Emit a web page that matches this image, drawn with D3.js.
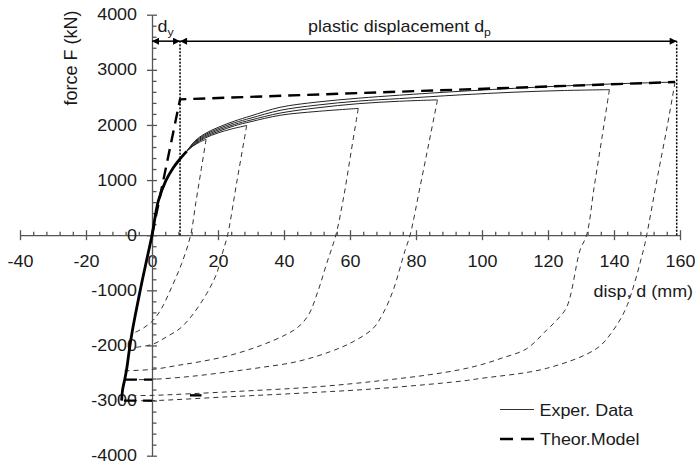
<!DOCTYPE html>
<html>
<head>
<meta charset="utf-8">
<title>Force - displacement</title>
<script src="https://cdn.jsdelivr.net/npm/d3@7"></script>
<style>
body { margin: 0; background: #fff; }
text { font-family: "Liberation Sans", Arial, sans-serif; fill: #1a1a1a; }
</style>
</head>
<body>
<div id="chart"></div>
<script>
var w = 695, h = 464;

var xMajor = [-40, -20, 0, 20, 40, 60, 80, 100, 120, 140, 160];
var yMajor = [-4000, -3000, -2000, -1000, 0, 1000, 2000, 3000, 4000];

// common loading path (drawn bold)
var backbone = [[-9.2,-3000],[-8.9,-2800],[-8.2,-2600],[-7.6,-2400],[-6.8,-2050],[-6.0,-1750],[-4.9,-1400],[-3.4,-950],[-1.8,-500],[0,0],[1.9,620],[4.2,990],[6.4,1220],[8.3,1370],[10.5,1520]];

// experimental loading branches
var load1 = [[10.5,1520],[12.5,1620],[14.5,1690],[16.4,1740]];
var load2 = [[10.5,1520],[13,1650],[16,1760],[20,1855],[24,1925],[28.7,1990]];
var load3 = [[10.5,1520],[13,1665],[16,1780],[20,1880],[25,1985],[30,2060],[38.8,2175],[50,2245],[62.5,2300]];
var load4 = [[10.5,1520],[13,1680],[16,1800],[20,1905],[25,2010],[30,2090],[38.8,2215],[50,2310],[62.5,2386],[75,2430],[86.5,2455]];
var load5 = [[10.5,1520],[13,1695],[16,1820],[20,1930],[25,2040],[30,2125],[38.8,2265],[50,2360],[62.5,2433],[75,2478],[93.3,2545],[110,2595],[125,2625],[138.6,2640]];
var load6 = [[10.5,1520],[13,1710],[16,1840],[20,1955],[25,2070],[30,2165],[38.8,2320],[50,2415],[62.5,2485],[75,2540],[93.3,2610],[120,2695],[140,2745],[158.5,2778]];

// experimental unloading branches
var unload1 = [[16.4,1740],[14.8,1150],[13.3,600],[11.7,0],[9,-513],[6,-937],[2.9,-1328],[0.4,-1540],[-2.5,-1680],[-5.7,-1780]];
var unload2 = [[28.7,1990],[25.8,1000],[22.9,0],[21.6,-272],[19.6,-694],[16.6,-1056],[12.2,-1450],[8.5,-1690],[4.5,-1840],[0.4,-1975],[-5.2,-2036]];
var unload3 = [[62.5,2300],[60.3,1500],[58.1,700],[55.7,0],[53,-500],[50.4,-996],[47.4,-1449],[44,-1680],[40.3,-1812],[33,-2000],[23.6,-2180],[15,-2290],[8,-2360],[0.4,-2433],[-8.3,-2460]];
var unload4 = [[86.5,2455],[84,1700],[81.3,900],[78.2,0],[76.7,-272],[73.1,-996],[70,-1420],[67,-1690],[61,-1930],[54,-2113],[43.8,-2295],[33,-2400],[23.6,-2476],[12,-2560],[0.4,-2614],[-8.2,-2622]];
var unload5 = [[138.6,2640],[136.3,1750],[134,880],[131.7,0],[129.7,-272],[125.7,-1300],[122.5,-1550],[119.6,-1720],[113.5,-2060],[106,-2230],[99.4,-2355],[93.3,-2440],[84.2,-2530],[69.1,-2640],[50,-2750],[23.6,-2840],[0.4,-2905],[-6,-2910]];
var unload6 = [[158.5,2778],[156.2,2000],[153,1000],[149.9,0],[148.9,-272],[143.8,-1299],[139.8,-1721],[134.8,-2053],[119.6,-2415],[99.4,-2600],[93.3,-2650],[69.1,-2780],[50,-2850],[23.6,-2930],[0.4,-3000],[-8.5,-3000]];

// theoretical model
var theorModel = [[0,0],[8.5,2465],[158.5,2778]];
var theorNeg1 = [[-8.2,-2620],[0,-2620]];
var theorNeg2 = [[-8.5,-3000],[0,-3000]];
var theorNeg3 = [[11.5,-2905],[15,-2905]];

// dimension arrows
var dyLimits = [0, 8.5];
var dpLimits = [8.5, 159];
var arrowForce = 3520;

var sx = 1.12; // glyph stretch

var x = d3.scaleLinear().domain([-40, 160]).range([20, 680]);
var y = d3.scaleLinear().domain([-4000, 4000]).range([455.7, 14.7]);

var svg = d3.select('#chart').append('svg').attr('width', w).attr('height', h);

var defs = svg.append('defs');
defs.append('marker')
    .attr('id', 'arrow')
    .attr('viewBox', '0 0 10 10')
    .attr('refX', 10).attr('refY', 5)
    .attr('markerWidth', 8).attr('markerHeight', 7)
    .attr('markerUnits', 'userSpaceOnUse')
    .attr('orient', 'auto-start-reverse')
    .append('path').attr('d', 'M0,0L10,5L0,10z').attr('fill', '#000');

function plain(d) { return String(d); }

// axes
var axisColor = '#555';
var xAxis = svg.append('g').attr('transform', 'translate(0,' + y(0) + ')')
    .call(d3.axisBottom(x).tickValues(xMajor).tickSize(5).tickSizeOuter(0).tickPadding(15.3).tickFormat(plain));
xAxis.selectAll('.tick line').attr('y1', -5);
var xMinor = d3.range(-40, 161, 4).filter(function(v){ return v % 20 !== 0; });
svg.append('g').attr('transform', 'translate(0,' + y(0) + ')')
    .call(d3.axisTop(x).tickValues(xMinor).tickSize(3.5).tickFormat(''))
    .select('.domain').remove();

var yAxis = svg.append('g').attr('transform', 'translate(' + x(0) + ',0)')
    .call(d3.axisLeft(y).tickValues(yMajor).tickSize(5).tickSizeOuter(0).tickPadding(10).tickFormat(plain));
yAxis.selectAll('.tick line').attr('x1', 5);
var yMinor = d3.range(-4000, 4001, 200).filter(function(v){ return v % 1000 !== 0; });
svg.append('g').attr('transform', 'translate(' + x(0) + ',0)')
    .call(d3.axisRight(y).tickValues(yMinor).tickSize(4.5).tickFormat(''))
    .select('.domain').remove();

svg.selectAll('.domain, .tick line').attr('stroke', axisColor).attr('stroke-width', 1.3);
svg.selectAll('.tick text')
    .attr('font-size', '16px')
    .attr('font-family', '"Liberation Sans", Arial, sans-serif')
    .attr('fill', '#1a1a1a')
    .attr('transform', 'scale(' + sx + ',1)');
yAxis.selectAll('.tick text').attr('x', -15 / sx);

var line = d3.line()
    .x(function(d){ return x(d[0]); })
    .y(function(d){ return y(d[1]); })
    .curve(d3.curveCatmullRom.alpha(0.5));
var straight = d3.line()
    .x(function(d){ return x(d[0]); })
    .y(function(d){ return y(d[1]); });

// unloading (thin dashed)
[unload1, unload2, unload3, unload4, unload5, unload6].forEach(function(s){
    svg.append('path').attr('d', line(s))
        .attr('fill', 'none').attr('stroke', '#333').attr('stroke-width', 1)
        .attr('stroke-dasharray', '5,4');
});

// loading (thin solid)
[load1, load2, load3, load4, load5, load6].forEach(function(s){
    svg.append('path').attr('d', line(s))
        .attr('fill', 'none').attr('stroke', '#222').attr('stroke-width', 1);
});
svg.append('path').attr('d', line(backbone))
    .attr('fill', 'none').attr('stroke', '#000').attr('stroke-width', 2.8);

// theoretical model
[theorModel, theorNeg1, theorNeg2, theorNeg3].forEach(function(s){
    svg.append('path').attr('d', straight(s))
        .attr('fill', 'none').attr('stroke', '#000').attr('stroke-width', 2.4)
        .attr('stroke-dasharray', '12,7');
});

// dimension lines
[dyLimits[1], dpLimits[1]].forEach(function(v){
    svg.append('line')
        .attr('x1', x(v)).attr('x2', x(v))
        .attr('y1', y(0)).attr('y2', y(arrowForce))
        .attr('stroke', '#000').attr('stroke-width', 1.5)
        .attr('stroke-dasharray', '2,1.5');
});
[dyLimits, dpLimits].forEach(function(s){
    svg.append('line')
        .attr('x1', x(s[0])).attr('x2', x(s[1]))
        .attr('y1', y(arrowForce)).attr('y2', y(arrowForce))
        .attr('stroke', '#000').attr('stroke-width', 1.5)
        .attr('marker-start', 'url(#arrow)')
        .attr('marker-end', 'url(#arrow)');
});

function label(str, px, py, anchor, size) {
    return svg.append('text')
        .attr('transform', 'translate(' + px + ',' + py + ') scale(' + sx + ',1)')
        .attr('text-anchor', anchor || 'start')
        .attr('font-size', (size || 16) + 'px')
        .text(str);
}

var t1 = label('d', 157.5, 31.5);
t1.append('tspan').attr('font-size', '11px').attr('dy', 4).text('y');
var t2 = label('plastic displacement d', 308, 31.5);
t2.append('tspan').attr('font-size', '11px').attr('dy', 4).text('p');

label('disp, d (mm)', 693, 296.5, 'end');

svg.append('text')
    .attr('transform', 'translate(76.5,58) rotate(-90)')
    .attr('text-anchor', 'middle')
    .attr('font-size', '18px')
    .text('force F (kN)');

// legend
svg.append('line').attr('x1', 500).attr('x2', 534).attr('y1', 409.5).attr('y2', 409.5)
    .attr('stroke', '#333').attr('stroke-width', 1);
label('Exper. Data', 539.5, 416);
svg.append('line').attr('x1', 500).attr('x2', 534).attr('y1', 439).attr('y2', 439)
    .attr('stroke', '#000').attr('stroke-width', 2.4).attr('stroke-dasharray', '13,8');
label('Theor.Model', 540, 445);
</script>
</body>
</html>
